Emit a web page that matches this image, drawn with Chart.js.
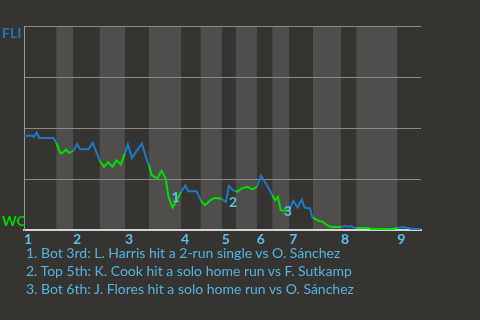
<!DOCTYPE html>
<html>
<head>
<meta charset="utf-8">
<script src="https://cdn.jsdelivr.net/npm/chart.js@4"></script>
<style>
  html, body { margin: 0; padding: 0; background: #353431; width: 480px; height: 320px; overflow: hidden; }
  #wrap { position: absolute; left: 0; top: 0; width: 480px; height: 250px; }
  #notes { position: absolute; left: 26px; top: 244px; font-family: Lato, "Open Sans", sans-serif; font-size: 14px; line-height: 18px; color: #55b4e4; }
</style>
</head>
<body>
<div id="wrap"><canvas id="c" width="480" height="250"></canvas></div>
<div id="notes"></div>
<script>
// pitch index along the game, and FLI win probability (%)
const pitchX = [0,6,7,9,11,21,23,26,27,30,32,35,38,40,46,49,54,57,60,63,66,69,72,74,77,84,88,89,91,95,98,101,103,106,112,115,117,123,126,127,129,133,136,140,141,144,146,149,151,152,155,159,163,166,169,173,177,179,181,183,185,189,192,195,198,200,204,205,206,210,213,216,219,226,229,232,233,236,237,246,247,263,266,270,274,276,283];
const fliWinPct = [46.2,46.2,45.6,47.7,45.2,45.2,42.8,37.7,37.7,39.4,37.9,38.7,42.3,39.6,39.6,42.8,34.0,31.0,33.3,31.0,34.2,32.2,37.6,42.0,35.4,42.5,33.5,32.0,27.0,25.3,29.1,25.3,16.3,11.1,18.8,21.9,19.1,19.1,14.7,13.6,12.3,14.7,15.8,15.5,15.2,13.9,21.6,19.6,19.1,18.8,20.4,21.2,20.0,21.2,26.8,22.1,17.2,14.7,16.3,9.8,9.5,9.8,14.4,11.1,15.0,11.1,10.6,7.4,6.0,4.6,4.1,2.5,1.6,1.6,2.0,1.6,2.0,1.1,1.1,1.1,0.6,0.6,1.1,1.6,1.1,0.6,0.6];
// half-inning start positions (pitch index); last value is the end of the game
const halfStarts = [0,23,35,54,72,89,112,126,141,151,166,177,189,206,226,237,266,283];
const inningLabels = ["1","2","3","4","5","6","7","8","9"];
const eventLabels = ["1","2","3"];
const eventPointIdx = [32,45,59];
const eventTexts = [
  "1. Bot 3rd: L. Harris hit a 2-run single vs O. Sánchez",
  "2. Top 5th: K. Cook hit a solo home run vs F. Sutkamp",
  "3. Bot 6th: J. Flores hit a solo home run vs O. Sánchez"
];
const teamTop = "FLI";
const teamBottom = "WC";

const BLUE = '#2078c4';
const GREEN = '#00e000';
const TICK = '#5cc0f0';
const BAND = '#4f4e4c';

document.getElementById('notes').innerHTML = eventTexts.map(t => '<div>' + t + '</div>').join('');

const bottomHalves = [];
for (let i = 1; i + 1 < halfStarts.length; i += 2) bottomHalves.push([halfStarts[i], halfStarts[i + 1]]);
const inningStarts = halfStarts.filter((v, i) => i % 2 === 0 && i < halfStarts.length - 1);
const isBottom = x => bottomHalves.some(([a, b]) => x >= a && x < b);

const bandsPlugin = {
  id: 'bands',
  beforeDraw(chart) {
    const { ctx, chartArea: ca, scales: { x } } = chart;
    ctx.save();
    ctx.fillStyle = BAND;
    bottomHalves.forEach(([a, b]) => {
      const x0 = x.getPixelForValue(a), x1 = x.getPixelForValue(b);
      ctx.fillRect(x0, ca.top, x1 - x0, ca.bottom - ca.top);
    });
    ctx.restore();
  }
};

const labelsPlugin = {
  id: 'labels',
  afterDatasetsDraw(chart) {
    const { ctx, scales: { x, y } } = chart;
    ctx.save();
    ctx.font = 'bold 14px Lato, "Open Sans", sans-serif';
    ctx.fillStyle = TICK;
    ctx.textAlign = 'left';
    ctx.textBaseline = 'middle';
    eventPointIdx.forEach((idx, i) => {
      ctx.fillText(eventLabels[i], x.getPixelForValue(pitchX[idx]) + 3, y.getPixelForValue(fliWinPct[idx]) + 1);
    });
    ctx.font = 'bold 14px Lato, "Open Sans", sans-serif';
    ctx.fillStyle = BLUE;
    ctx.fillText(teamTop, 2, y.getPixelForValue(100) + 7);
    ctx.fillStyle = '#00d800';
    ctx.fillText(teamBottom, 2, y.getPixelForValue(0) - 9);
    ctx.restore();
  }
};

new Chart(document.getElementById('c'), {
  type: 'line',
  data: {
    datasets: [{
      data: pitchX.map((v, i) => ({ x: v, y: fliWinPct[i] })),
      borderColor: BLUE,
      borderWidth: 2,
      pointRadius: 0,
      tension: 0,
      segment: {
        borderColor: c => isBottom((c.p0.parsed.x + c.p1.parsed.x) / 2) ? GREEN : BLUE
      }
    }]
  },
  options: {
    responsive: false,
    animation: false,
    devicePixelRatio: 1,
    layout: { padding: { left: 24, top: 26, right: 59, bottom: 1 } },
    plugins: { legend: { display: false }, tooltip: { enabled: false } },
    scales: {
      x: {
        type: 'linear',
        min: halfStarts[0],
        max: halfStarts[halfStarts.length - 1],
        afterBuildTicks: s => { s.ticks = inningStarts.map(v => ({ value: v })); },
        grid: { display: false, drawTicks: false },
        border: { color: '#d4d4d4', width: 2 },
        ticks: {
          autoSkip: false,
          maxRotation: 0,
          align: 'start',
          padding: 1,
          color: TICK,
          font: { family: 'Lato, "Open Sans", sans-serif', size: 14, weight: 'bold' },
          callback: (v, i) => inningLabels[i]
        }
      },
      y: {
        min: 0,
        max: 100,
        afterBuildTicks: s => { s.ticks = [0, 25, 50, 75, 100].map(v => ({ value: v })); },
        grid: { color: '#8a8a88', drawTicks: false, lineWidth: 1 },
        border: { color: '#9a9a98', width: 1 },
        ticks: { display: false }
      }
    }
  },
  plugins: [bandsPlugin, labelsPlugin]
});
</script>
</body>
</html>
